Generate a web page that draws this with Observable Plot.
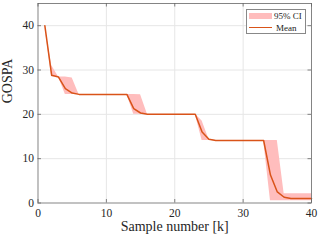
<!DOCTYPE html>
<html><head><meta charset="utf-8">
<script src="https://cdn.jsdelivr.net/npm/d3@7"></script>
<script src="https://cdn.jsdelivr.net/npm/@observablehq/plot@0.6"></script>
<style>
html,body{margin:0;padding:0;background:#fff;}
#wrap{position:relative;width:322px;height:241px;overflow:hidden;}
#legend{position:absolute;left:246px;top:9px;width:58px;height:23px;border:1px solid #888;background:#fff;font-family:"Liberation Serif",serif;font-size:9px;color:#222;}
#legend .patch{position:absolute;left:2px;top:3px;width:23px;height:6px;background:#ffbdbd;}
#legend .ln{position:absolute;left:2px;top:16.5px;width:23px;height:1.5px;background:#d95319;}
#legend .t1{position:absolute;left:27px;top:0px;line-height:12px;}
#legend .t2{position:absolute;left:29px;top:11.5px;line-height:12px;}
</style>
</head><body>
<div id="wrap"><div id="chart"></div>
<div id="legend"><div class="patch"></div><span class="t1">95% CI</span><div class="ln"></div><span class="t2">Mean</span></div>
</div>
<script>
const sampleK = [1,2,3,4,5,6,7,8,9,10,11,12,13,14,15,16,17,18,19,20,21,22,23,24,25,26,27,28,29,30,31,32,33,34,35,36,37,38,39,40];
const meanGospa = [40,28.8,28.4,25.8,24.8,24.5,24.5,24.5,24.5,24.5,24.5,24.5,24.5,21.3,20.3,20.0,20.0,20.0,20.0,20.0,20.0,20.0,20.0,16.0,14.4,14.1,14.1,14.1,14.1,14.1,14.1,14.1,14.1,6.3,2.5,1.3,1.0,1.0,1.0,1.0];
const lowerCI = [40,28.5,28.4,24.5,24.5,24.5,24.5,24.5,24.5,24.5,24.5,24.5,24.5,20.0,20.0,20.0,20.0,20.0,20.0,20.0,20.0,20.0,20.0,14.1,14.1,14.1,14.1,14.1,14.1,14.1,14.1,14.1,14.1,0.5,0.5,0.5,0.5,0.5,0.5,0.5];
const upperCI = [40,31.0,28.4,28.4,28.2,24.5,24.5,24.5,24.5,24.5,24.5,24.5,24.5,24.5,24.4,20.0,20.0,20.0,20.0,20.0,20.0,20.0,20.0,18.5,14.4,14.1,14.1,14.1,14.1,14.1,14.1,14.1,14.1,14.1,14.1,2.1,2.1,2.1,2.1,2.1];
const xTicks = [0,10,20,30,40];
const yTicks = [0,10,20,30,40];

const data = sampleK.map((k,i)=>({k, mean:meanGospa[i], lo:lowerCI[i], hi:upperCI[i]}));

const W=322,H=241,mL=37.5,mR=11,mT=3,mB=38.5;
const ph=H-mT-mB, pw=W-mL-mR, tl=3.5;
const axisColor="#666";

const chart = Plot.plot({
  width:W, height:H, marginLeft:mL, marginRight:mR, marginTop:mT, marginBottom:mB,
  style:{fontFamily:"'Liberation Serif', serif", fontSize:"11.5px", color:"#262626", background:"#fff"},
  x:{domain:[0,40]}, y:{domain:[0,45]},
  marks:[
    Plot.gridX(xTicks.slice(1,-1), {stroke:"#e6e6e6", strokeOpacity:1}),
    Plot.gridY(yTicks.slice(1), {stroke:"#e6e6e6", strokeOpacity:1}),
    Plot.areaY(data, {x:"k", y1:"lo", y2:"hi", fill:"#ffbdbd"}),
    Plot.lineY(data, {x:"k", y:"mean", stroke:"#d95319", strokeWidth:1.5}),
    Plot.frame({stroke:axisColor, strokeWidth:0.8}),
    Plot.ruleX(xTicks, {stroke:axisColor, strokeWidth:0.8, insetTop:ph-tl}),
    Plot.ruleX(xTicks, {stroke:axisColor, strokeWidth:0.8, insetBottom:ph-tl}),
    Plot.ruleY(yTicks, {stroke:axisColor, strokeWidth:0.8, insetRight:pw-tl}),
    Plot.ruleY(yTicks, {stroke:axisColor, strokeWidth:0.8, insetLeft:pw-tl}),
    Plot.axisX(xTicks, {tickSize:0, tickPadding:6, label:null, fontSize:11.5}),
    Plot.axisY(yTicks, {tickSize:0, tickPadding:4, label:null, fontSize:11.5}),
    Plot.text(["Sample number [k]"], {frameAnchor:"bottom", dy:27.5, fontSize:14, fill:"#262626"}),
    Plot.text(["GOSPA"], {frameAnchor:"left", dx:-30, rotate:-90, fontSize:14, fill:"#262626"})
  ]
});
document.getElementById("chart").appendChild(chart);
</script>
</body></html>
